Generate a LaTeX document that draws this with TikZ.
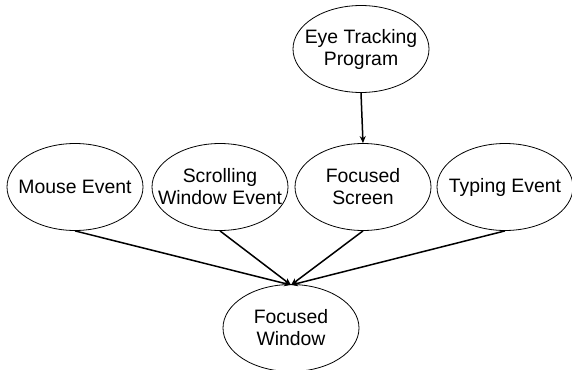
\documentclass[tikz,border=0pt]{standalone}
\usepackage{fontspec}
\setmainfont{Liberation Sans}
\usetikzlibrary{shapes.geometric,arrows.meta}
\begin{document}
\begin{tikzpicture}[x=1pt,y=-1pt,
  ev/.style={draw,ellipse,line width=0.8pt,minimum width=136pt,minimum height=87pt,inner sep=0pt},
  txt/.style={align=center,inner sep=0pt,font=\fontsize{19.4}{22}\selectfont},
  conn/.style={line width=1.5pt,-{Stealth[length=7pt,width=6pt]}}]
\useasboundingbox (0,0) rectangle (572,369);
\node[ev] (eye) at (361,49) {};
\node[txt] (eyeT) at (eye.center) {Eye Tracking\\Program};
\node[ev] (mouse) at (75,187) {};
\node[txt] (mouseT) at (mouse.center) {Mouse Event};
\node[ev] (scroll) at (220,187) {};
\node[txt] (scrollT) at (scroll.center) {Scrolling\\Window Event};
\node[ev] (screen) at (363,187) {};
\node[txt] (screenT) at (screen.center) {Focused\\Screen};
\node[ev] (typing) at (505,187) {};
\node[txt] (typingT) at (typing.center) {Typing Event};
\node[ev] (window) at (291,328) {};
\node[txt] (windowT) at (window.center) {Focused\\Window};
\coordinate (tip) at (291,285);
\draw[conn] (eye.south) -- (screen.north);
\draw[conn] (mouse.south) -- (tip);
\draw[conn] (scroll.south) -- (tip);
\draw[conn] (screen.south) -- (tip);
\draw[conn] (typing.south) -- (tip);
\end{tikzpicture}
\end{document}
